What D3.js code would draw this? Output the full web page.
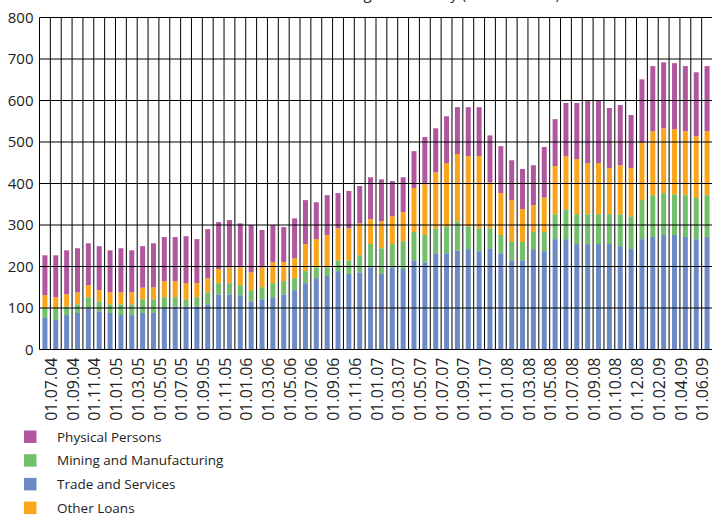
<!DOCTYPE html>
<html>
<head>
<meta charset="utf-8">
<script src="https://cdn.jsdelivr.net/npm/d3@7"></script>
<style>
  html, body { margin: 0; padding: 0; background: #fff; }
  svg { display: block; font-family: "Open Sans", sans-serif; }
</style>
</head>
<body>
<div id="chart"></div>
<script>
// month stamps of each bar (dd.mm.yy)
const dates = [
  "01.07.04","01.08.04","01.09.04","01.10.04","01.11.04","01.12.04",
  "01.01.05","01.02.05","01.03.05","01.04.05","01.05.05","01.06.05",
  "01.07.05","01.08.05","01.09.05","01.10.05","01.11.05","01.12.05",
  "01.01.06","01.02.06","01.03.06","01.04.06","01.05.06","01.06.06",
  "01.07.06","01.08.06","01.09.06","01.10.06","01.11.06","01.12.06",
  "01.01.07","01.02.07","01.03.07","01.04.07","01.05.07","01.06.07",
  "01.07.07","01.08.07","01.09.07","01.10.07","01.11.07","01.12.07",
  "01.01.08","01.02.08","01.03.08","01.04.08","01.05.08","01.06.08",
  "01.07.08","01.08.08","01.09.08","15.09.08","01.10.08","01.11.08",
  "01.12.08","01.01.09","01.02.09","01.03.09","01.04.09","01.05.09",
  "01.06.09","01.07.09"
]
// only every second date gets a label
const tickLabels = dates.filter((d, i) => i % 2 === 0)

const tradeServices = [76,71,83,88,100,92,88,83,83,88,88,100,104,104,104,109,133,133,131,116,
  121,126,133,143,160,172,177,189,182,186,198,182,198,194,215,210,232,232,239,242,
  237,244,232,215,215,242,237,266,266,254,254,254,254,249,242,266,271,276,276,271,266,271]
const miningManufacturing = [24,29,21,21,26,24,21,26,26,33,33,26,22,17,22,29,27,27,24,27,
  29,34,32,29,29,26,21,26,33,41,56,62,56,67,68,66,60,65,70,55,
  55,48,44,44,44,41,46,60,72,72,72,72,72,77,79,94,101,101,98,101,99,101]
const otherLoans = [31,26,29,29,29,27,29,29,29,28,29,39,39,39,34,34,34,38,43,43,
  48,51,46,48,65,68,78,77,77,77,60,65,67,70,106,122,135,152,162,169,
  174,111,101,101,79,65,83,116,128,133,123,123,111,118,116,138,154,156,157,154,149,154]
const physicalPersons = [96,101,106,106,101,106,101,106,101,100,106,106,106,113,106,118,113,114,106,114,
  90,89,84,96,106,89,96,85,90,90,101,101,85,84,89,114,106,113,113,118,
  118,113,113,96,97,96,122,113,128,135,152,152,145,145,128,153,157,159,159,157,154,157]

const yTicks = [0,100,200,300,400,500,600,700,800]

const seriesNames = ["Trade and Services","Mining and Manufacturing","Other Loans","Physical Persons"]
const colors = {
  "Trade and Services": "#6c8bc6",
  "Mining and Manufacturing": "#72c06b",
  "Other Loans": "#f9a61c",
  "Physical Persons": "#b157a0"
}
const legendOrder = ["Physical Persons","Mining and Manufacturing","Trade and Services","Other Loans"]

let width = 712
let height = 516
let margin = {top: 17.5, right: -0.5, bottom: 166.5, left: 39.5}

let rows = dates.map((d, i) => ({
  date: d,
  "Trade and Services": tradeServices[i],
  "Mining and Manufacturing": miningManufacturing[i],
  "Other Loans": otherLoans[i],
  "Physical Persons": physicalPersons[i]
}))

let svg = d3.select("#chart").append("svg")
  .attr("width", width)
  .attr("height", height)

let x = d3.scaleBand()
  .domain(dates)
  .range([margin.left, width - margin.right])
  .padding(0)

let y = d3.scaleLinear()
  .domain([0, 800])
  .range([height - margin.bottom, margin.top])

let stacked = d3.stack().keys(seriesNames)(rows)

let barW = x.bandwidth() * 0.46

// bars
svg.append("g").selectAll("g")
  .data(stacked)
  .join("g")
  .attr("fill", s => colors[s.key])
  .selectAll("rect")
  .data(s => s)
  .join("rect")
  .attr("x", d => x(d.data.date) + (x.bandwidth() - barW) / 2)
  .attr("width", barW)
  .attr("y", d => y(d[1]))
  .attr("height", d => y(d[0]) - y(d[1]))

// grid: horizontal lines at each tick, vertical lines between categories
let grid = svg.append("g").attr("stroke", "#000").attr("stroke-width", 1)
grid.selectAll("line.h")
  .data(yTicks)
  .join("line")
  .attr("class", "h")
  .attr("x1", margin.left)
  .attr("x2", width - margin.right)
  .attr("y1", d => y(d))
  .attr("y2", d => y(d))

let bounds = dates.map(d => x(d)).concat([x(dates[dates.length - 1]) + x.bandwidth()])
grid.selectAll("line.v")
  .data(bounds)
  .join("line")
  .attr("class", "v")
  .attr("x1", d => d)
  .attr("x2", d => d)
  .attr("y1", y(800))
  .attr("y2", y(0))

// y axis labels
let yAxis = d3.axisLeft(y).tickValues(yTicks).tickSize(0).tickPadding(6)
let yg = svg.append("g").attr("transform", `translate(${margin.left},0)`).call(yAxis)
yg.select(".domain").remove()
yg.selectAll("text")
  .attr("font-family", "'Open Sans', sans-serif")
  .attr("font-size", 15)
  .attr("fill", "#222")

// x labels, rotated, sitting between bar pairs
let xg = svg.append("g")
xg.selectAll("text")
  .data(tickLabels)
  .join("text")
  .attr("transform", d => {
    let cx = x(d) + x.bandwidth() + 1
    return `translate(${cx},${y(0) + 8}) rotate(-90)`
  })
  .attr("text-anchor", "end")
  .attr("dy", "0.35em")
  .attr("font-size", 16)
  .attr("fill", "#222")
  .text(d => d)

// title, mostly above the visible frame (only descenders show)
svg.append("text")
  .attr("x", 560)
  .attr("y", -1.5)
  .attr("text-anchor", "end")
  .attr("font-size", 15)
  .attr("fill", "#222")
  .text("Bank Lending to Economy (in KZT billion)")

// legend
let legend = svg.append("g").attr("transform", "translate(24,430.5)")
let item = legend.selectAll("g")
  .data(legendOrder)
  .join("g")
  .attr("transform", (d, i) => `translate(0,${i * 23.7})`)
item.append("rect")
  .attr("width", 12.5)
  .attr("height", 12.5)
  .attr("fill", d => colors[d])
item.append("text")
  .attr("x", 33)
  .attr("y", 6.5)
  .attr("dy", "0.35em")
  .attr("font-size", 13.5)
  .attr("fill", "#222")
  .text(d => d)
</script>
</body>
</html>
